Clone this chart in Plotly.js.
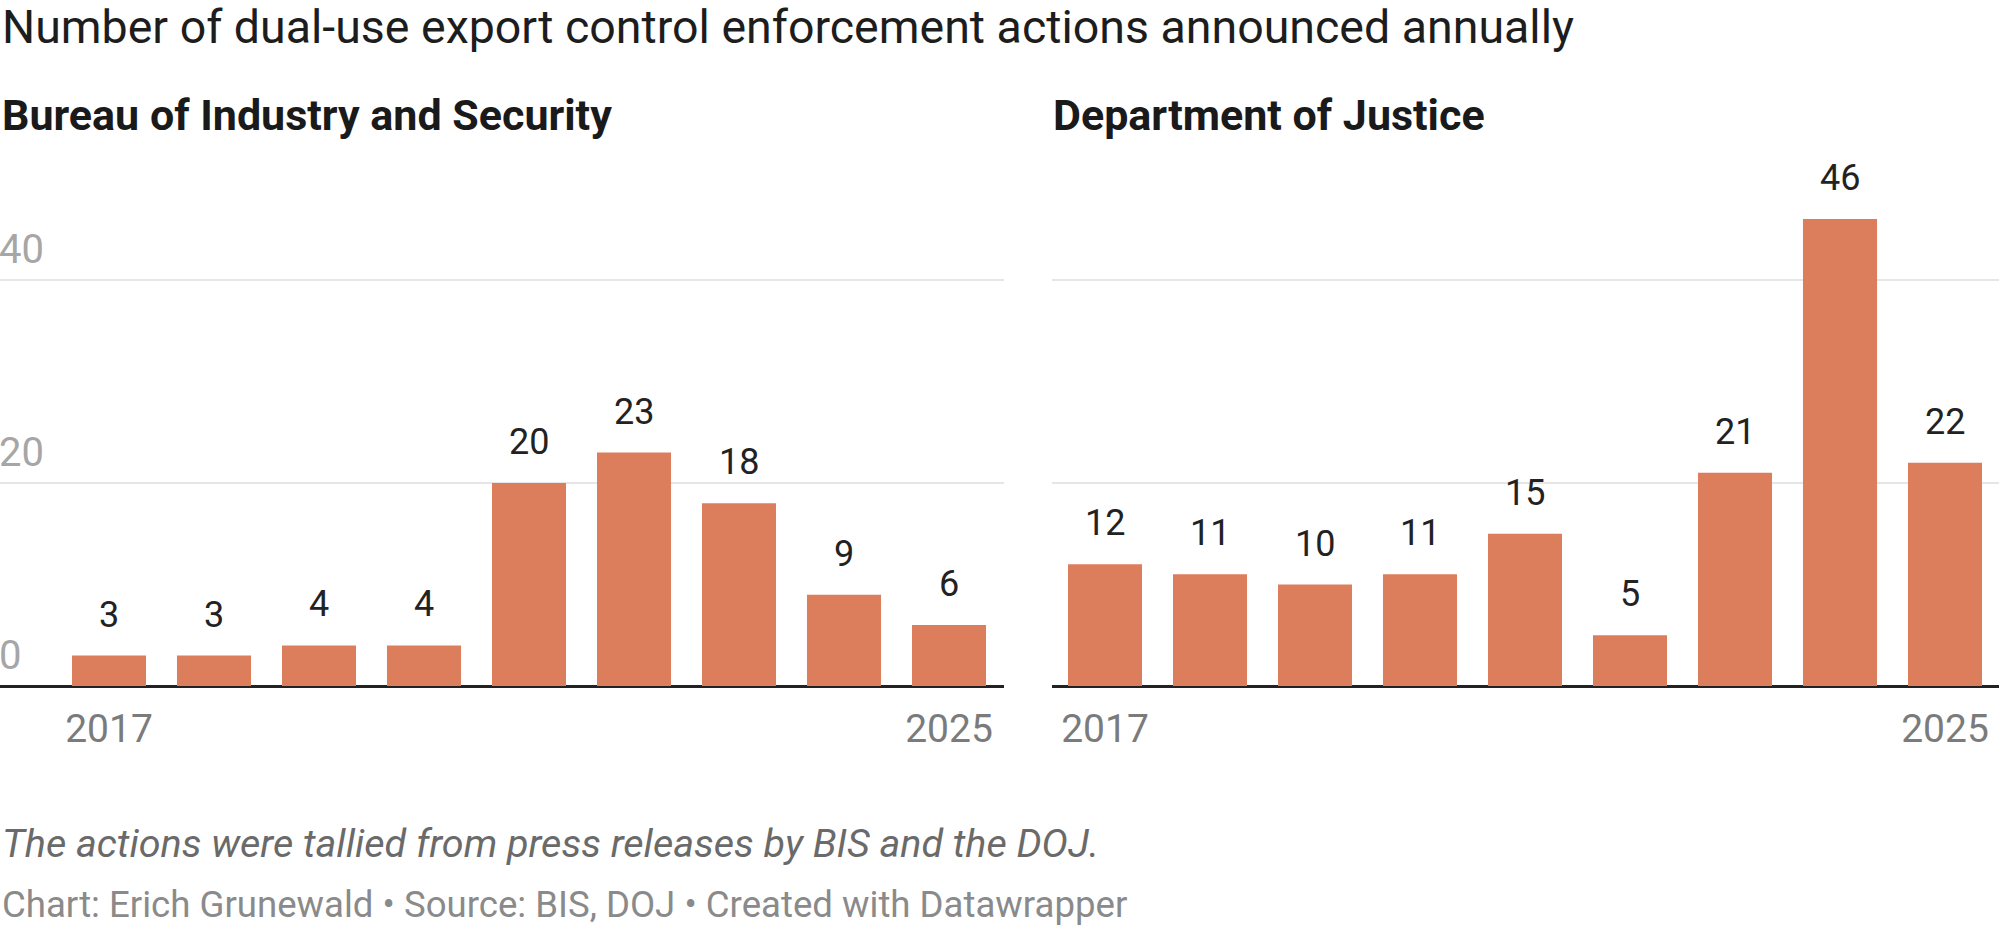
<!DOCTYPE html>
<html>
<head>
<meta charset="utf-8">
<script src="https://cdn.plot.ly/plotly-3.0.1.min.js"></script>
<style>
html,body{margin:0;padding:0;background:#fff;}
#chart{width:1999px;height:927px;}
</style>
</head>
<body>
<div id="chart"></div>
<script>
var years = ['2017','2018','2019','2020','2021','2022','2023','2024','2025'];
var bisValues = [3,3,4,4,20,23,18,9,6];
var dojValues = [12,11,10,11,15,5,21,46,22];
var yTicks = [0,20,40];
var xTickLabels = ['2017','2025'];

var W = 1999, H = 927;
function px(p){return p/W;}
function py(p){return 1 - p/H;}

var barColor = '#dc7e5c';
var FONT = 'Roboto, "Open Sans", sans-serif';

var traces = [
  {type:'bar', x:years, y:bisValues, xaxis:'x', yaxis:'y', marker:{color:barColor}, hoverinfo:'x+y'},
  {type:'bar', x:years, y:dojValues, xaxis:'x2', yaxis:'y2', marker:{color:barColor}, hoverinfo:'x+y'}
];

var ann = [];
function labels(vals, xr, yr){
  for (var i=0;i<years.length;i++){
    // x given as category index (numeric-looking category names would be cast to numbers)
    ann.push({x:years.indexOf(years[i]), y:vals[i], xref:xr, yref:yr, text:String(vals[i]), showarrow:false,
      xanchor:'center', yanchor:'bottom', yshift:18,
      font:{family:FONT, size:36, color:'#222222'}});
  }
}
labels(bisValues,'x','y');
labels(dojValues,'x2','y2');

ann.push({xref:'paper', yref:'paper', x:px(0), y:py(-2.5), xanchor:'left', yanchor:'top',
  text:'Number of dual-use export control enforcement actions announced annually', showarrow:false,
  font:{family:FONT, size:46.5, color:'#1d1d1d'}});
ann.push({xref:'paper', yref:'paper', x:px(0), y:py(87.5), xanchor:'left', yanchor:'top',
  text:'<b>Bureau of Industry and Security</b>', showarrow:false,
  font:{family:FONT, size:43, color:'#1a1a1a'}});
ann.push({xref:'paper', yref:'paper', x:px(1051), y:py(87.5), xanchor:'left', yanchor:'top',
  text:'<b>Department of Justice</b>', showarrow:false,
  font:{family:FONT, size:43, color:'#1a1a1a'}});
ann.push({xref:'paper', yref:'paper', x:px(0), y:py(818), xanchor:'left', yanchor:'top',
  text:'<i>The actions were tallied from press releases by BIS and the DOJ.</i>', showarrow:false,
  font:{family:FONT, size:39.5, color:'#6a6a6a'}});
ann.push({xref:'paper', yref:'paper', x:px(0), y:py(880.5), xanchor:'left', yanchor:'top',
  text:'Chart: Erich Grunewald • Source: BIS, DOJ • Created with Datawrapper', showarrow:false,
  font:{family:FONT, size:36.6, color:'#8a8a8a'}});

var yTop = 178.5, yBase = 686;
var commonY = {
  range:[0,50], domain:[py(yBase), py(yTop)], tickvals:yTicks,
  showgrid:true, gridcolor:'#e6e6e6', gridwidth:2.5,
  zeroline:true, zerolinecolor:'#222222', zerolinewidth:3,
  showline:false, ticks:'', fixedrange:true
};
var commonX = {
  type:'category', tickvals:xTickLabels, ticktext:xTickLabels, showgrid:false, zeroline:false,
  showline:false, ticks:'', ticklabelstandoff:16,
  tickfont:{family:FONT, size:39, color:'#7b7b7b'}, fixedrange:true
};

var layout = {
  width:W, height:H, margin:{l:0,r:0,t:0,b:0}, paper_bgcolor:'#fff', plot_bgcolor:'rgba(0,0,0,0)',
  showlegend:false, bargap:0.295,
  xaxis: Object.assign({}, commonX, {domain:[0, px(1004)], range:[-109/105, (1004-109)/105], anchor:'y'}),
  xaxis2: Object.assign({}, commonX, {domain:[px(1052), 1], range:[-(1105-1052)/105, (1999-1105)/105], anchor:'y2'}),
  yaxis: Object.assign({}, commonY, {anchor:'x', showticklabels:true, ticklabelposition:'inside',
    ticklabeloverflow:'allow', ticklabelshift:-31, ticklabelstandoff:-4,
    tickfont:{family:FONT, size:40, color:'#a6a6a6'}}),
  yaxis2: Object.assign({}, commonY, {anchor:'x2', showticklabels:false}),
  annotations: ann,
  font:{family:FONT}
};

Plotly.newPlot('chart', traces, layout, {displayModeBar:false, staticPlot:true});
</script>
</body>
</html>
